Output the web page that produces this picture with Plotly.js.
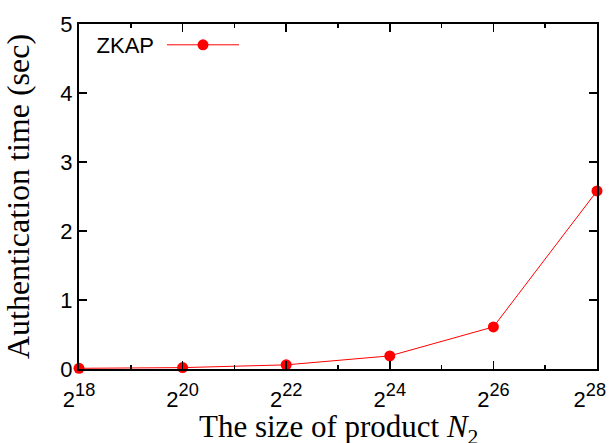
<!DOCTYPE html>
<html>
<head>
<meta charset="utf-8">
<script src="https://cdn.plot.ly/plotly-3.0.1.min.js"></script>
<style>html,body{margin:0;padding:0;background:#fff;}#chart{width:610px;height:443px;}</style>
</head>
<body>
<div id="chart"></div>
<script>
const exponents = [18, 20, 22, 24, 26, 28];
const authTime = [0.01, 0.02, 0.06, 0.19, 0.61, 2.58];
const tickVals = [18, 20, 22, 24, 26, 28];
const tickExps = ['18', '20', '22', '24', '26', '28'];
const seriesName = 'ZKAP';
const xTitle = 'The size of product <i>N</i><sub>2</sub>';
const yTitle = 'Authentication time (sec)';

const tickText = tickExps.map((e, i) =>
  '<span style="font-size:22px">2</span><sup>' + e + '</sup>' + (i === tickExps.length - 1 ? '&nbsp;&nbsp;' : ''));

const trace = {
  x: exponents,
  y: authTime,
  type: 'scatter',
  mode: 'lines+markers',
  name: ' ',
  line: {color: '#ff0000', width: 1},
  marker: {color: '#ff0000', size: 11, symbol: 'circle'},
  cliponaxis: false,
  showlegend: true
};

const sans = 'Liberation Sans, Arial, sans-serif';
const serif = 'Liberation Serif, Times New Roman, serif';

const layout = {
  width: 610,
  height: 443,
  margin: {l: 79, r: 13, t: 24, b: 74},
  paper_bgcolor: '#fff',
  plot_bgcolor: '#fff',
  font: {family: sans, color: '#000', size: 22},
  showlegend: true,
  legend: {
    x: 0.03, y: 1.0, xanchor: 'left', yanchor: 'top',
    bgcolor: 'rgba(0,0,0,0)',
    font: {family: sans, size: 22},
    title: {text: seriesName, side: 'left', font: {family: sans, size: 22}},
    itemwidth: 72
  },
  annotations: [{
    text: xTitle,
    xref: 'paper', yref: 'paper',
    x: 0.5, y: 0,
    xanchor: 'center', yanchor: 'middle',
    yshift: -60,
    showarrow: false,
    font: {family: serif, size: 31, color: '#000'}
  }],
  xaxis: {
    range: [18, 28],
    tickmode: 'array',
    tickvals: tickVals,
    ticktext: tickText,
    ticks: 'inside',
    ticklen: 8,
    tickwidth: 1.5,
    tickcolor: '#000',
    minor: {dtick: 1, ticks: 'inside', ticklen: 4, tickwidth: 1.5, tickcolor: '#000', showgrid: false},
    showline: true,
    linecolor: '#000',
    linewidth: 2,
    mirror: 'allticks',
    showgrid: false,
    zeroline: false,
    ticklabeloverflow: 'allow',
    ticklabelstandoff: 5,
    tickfont: {family: sans, size: 26}
  },
  yaxis: {
    range: [0, 5],
    dtick: 1,
    ticks: 'inside',
    ticklen: 8,
    tickwidth: 1.5,
    tickcolor: '#000',
    showline: true,
    linecolor: '#000',
    linewidth: 2,
    mirror: 'allticks',
    showgrid: false,
    zeroline: false,
    tickfont: {family: sans, size: 22},
    title: {text: yTitle, font: {family: serif, size: 32}}
  }
};

Plotly.newPlot('chart', [trace], layout, {displayModeBar: false, staticPlot: true});
</script>
</body>
</html>
